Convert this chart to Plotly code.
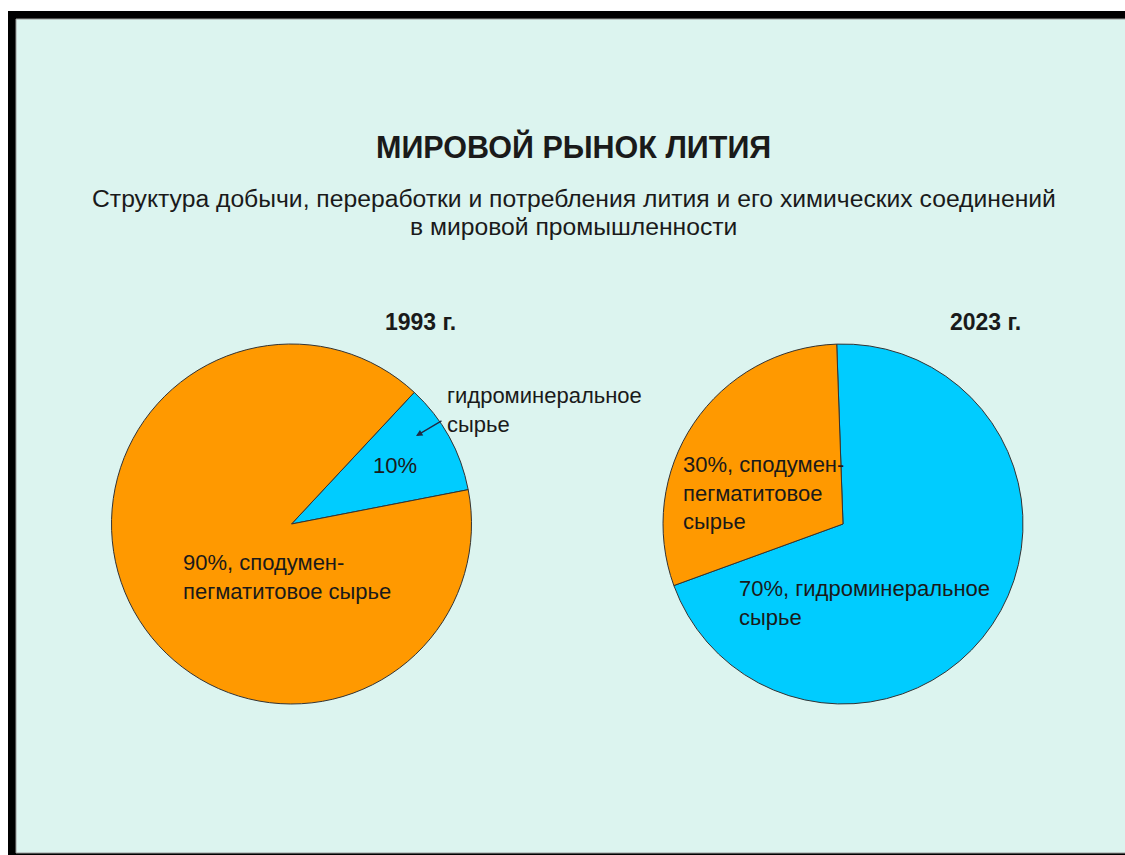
import plotly.graph_objects as go

# Lithium raw-material structure, shares in percent
years = ["1993 г.", "2023 г."]
categories = ["гидроминеральное сырье", "сподумен-пегматитовое сырье"]
shares_1993 = [10, 90]
shares_2023 = [70, 30]
slice_colors = ["#00CCFF", "#FF9900"]

title_text = "МИРОВОЙ РЫНОК ЛИТИЯ"
subtitle_lines = [
    "Структура добычи, переработки и потребления лития и его химических соединений",
    "в мировой промышленности",
]

W, H = 1125, 855
FONT = "Liberation Sans, Arial, sans-serif"
INK = "#1a1a1a"


def px(x):
    return x / W


def py(y):
    return 1 - y / H


def pie_domain(cx, cy, r):
    return dict(x=[px(cx - r), px(cx + r)], y=[py(cy + r), py(cy - r)])


fig = go.Figure()

fig.add_trace(go.Pie(
    labels=categories, values=shares_1993, sort=False,
    direction="clockwise", rotation=43,
    marker=dict(colors=slice_colors, line=dict(color="#333333", width=1)),
    textinfo="none", hoverinfo="label+percent",
    domain=pie_domain(291.5, 524, 180), showlegend=False,
))
fig.add_trace(go.Pie(
    labels=categories, values=shares_2023, sort=False,
    direction="clockwise", rotation=-2,
    marker=dict(colors=slice_colors, line=dict(color="#333333", width=1)),
    textinfo="none", hoverinfo="label+percent",
    domain=pie_domain(843, 524, 180), showlegend=False,
))

# frame: black band on top, left and bottom, pale background inside
shapes = [
    dict(type="rect", xref="paper", yref="paper", layer="below",
         x0=px(8), x1=px(1140), y0=py(870), y1=py(11),
         fillcolor="#000000", line=dict(width=0)),
    dict(type="rect", xref="paper", yref="paper", layer="below",
         x0=px(16), x1=px(1135), y0=py(853), y1=py(19),
         fillcolor="#DCF4EF", line=dict(color="#9a9a9a", width=1)),
]

ann = []


def text(x, y, s, size, bold=False, xanchor="left", align="left"):
    ann.append(dict(
        x=px(x), y=py(y), xref="paper", yref="paper", text=f"<b>{s}</b>" if bold else s,
        showarrow=False, xanchor=xanchor, yanchor="middle", align=align,
        font=dict(family=FONT, size=size, color=INK),
    ))


text(573, 146, title_text, 30.5, bold=True, xanchor="center")
text(574, 198, subtitle_lines[0], 24.7, xanchor="center")
text(573, 226, subtitle_lines[1], 24.7, xanchor="center")
text(420, 322, years[0], 23, bold=True, xanchor="center")
text(985, 322, years[1], 23, bold=True, xanchor="center")

hydro, spod = categories
spod_a, spod_b = spod.split("-")

# 1993 labels
text(395, 465, f"{shares_1993[0]}%", 22, xanchor="center")
text(445, 410, hydro.replace(" ", "<br>"), 22)
text(181, 577, f"{shares_1993[1]}%, {spod_a}-<br>{spod_b}", 22)

# callout arrow towards the small slice
ann.append(dict(
    x=px(416), y=py(436), xref="paper", yref="paper", text="",
    showarrow=True, ax=27, ay=-16, arrowhead=2, arrowsize=1,
    arrowwidth=1.3, arrowcolor="#1F2A44",
))

# 2023 labels
text(681, 493, f"{shares_2023[1]}%, {spod_a}-<br>{spod_b.replace(' ', '<br>')}", 22)
text(737, 603, f"{shares_2023[0]}%, {hydro.replace(' ', '<br>')}", 22)

fig.update_layout(
    width=W, height=H,
    margin=dict(l=0, r=0, t=0, b=0),
    paper_bgcolor="#FFFFFF",
    shapes=shapes,
    annotations=ann,
    showlegend=False,
)

fig.write_html("out.html")
